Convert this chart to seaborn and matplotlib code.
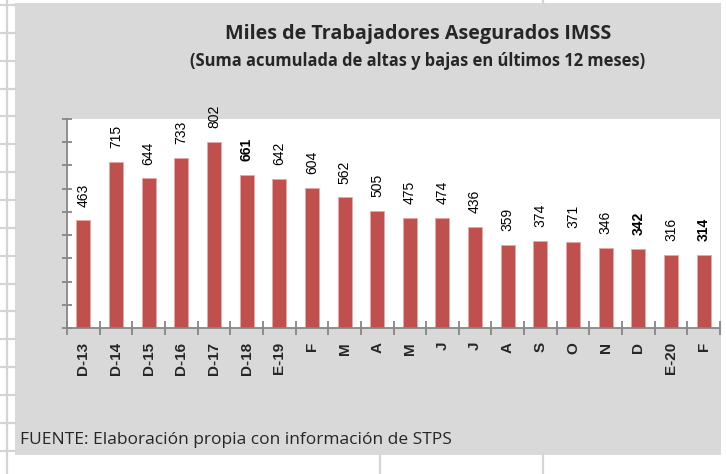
import numpy as np
import pandas as pd
import matplotlib
matplotlib.use("Agg")
import matplotlib.pyplot as plt
import seaborn as sns
from matplotlib.lines import Line2D
from matplotlib.patches import Rectangle
from matplotlib.ticker import MultipleLocator, FixedLocator, NullFormatter

# datos
etiquetas = ['D-13', 'D-14', 'D-15', 'D-16', 'D-17', 'D-18', 'E-19', 'F', 'M', 'A',
             'M', 'J', 'J', 'A', 'S', 'O', 'N', 'D', 'E-20', 'F']
valores = [463, 715, 644, 733, 802, 661, 642, 604, 562, 505,
           475, 474, 436, 359, 374, 371, 346, 342, 316, 314]
en_negrita = [5, 17, 19]  # etiquetas de valor resaltadas

titulo = 'Miles de Trabajadores Asegurados IMSS'
subtitulo = '(Suma acumulada de altas y bajas en últimos 12 meses)'
fuente = 'FUENTE: Elaboración propia con información de STPS'

W, H = 726, 474
ROJO = '#C0504D'
GRIS_EJE = '#868686'
GRIS_FONDO = '#D9D9D9'
GRIS_HOJA = '#D4D4D4'

sns.set_style("white")
fig = plt.figure(figsize=(W / 100, H / 100), dpi=100)
fig.patch.set_facecolor('white')


def fx(x):
    return x / W


def fy(y):
    return 1 - y / H


# cuadrícula de la hoja de cálculo
fig.add_artist(Line2D([fx(6.5), fx(6.5)], [0, 1], color=GRIS_HOJA, lw=1.6))
for y in np.arange(5, H, 27.85):
    fig.add_artist(Line2D([0, fx(15)], [fy(y), fy(y)], color=GRIS_HOJA, lw=1.6))
fig.add_artist(Line2D([fx(543), fx(543)], [fy(0), fy(3)], color=GRIS_HOJA, lw=1.6))
fig.add_artist(Line2D([fx(543), fx(543)], [fy(455), 0], color=GRIS_HOJA, lw=1.6))
fig.add_artist(Line2D([fx(380), fx(380)], [fy(455), 0], color=GRIS_HOJA, lw=1.6))

# área del gráfico (gris)
fig.add_artist(Rectangle((fx(15), fy(455)), fx(721) - fx(15), fy(3) - fy(455),
                         transform=fig.transFigure, facecolor=GRIS_FONDO,
                         edgecolor='none', zorder=0))

ax = fig.add_axes([fx(67), fy(328), fx(720) - fx(67), fy(119) - fy(328)])
ax.set_facecolor('white')

df = pd.DataFrame({'pos': np.arange(len(valores)), 'valor': valores})
sns.barplot(data=df, x='pos', y='valor', color=ROJO, saturation=1, width=0.43, ax=ax)
for p in ax.patches:
    p.set_edgecolor('#E6A9A8')
    p.set_linewidth(0.6)

ax.set_ylim(0, 900)
ax.set_xlim(-0.5, len(valores) - 0.5)
ax.set_xlabel('')
ax.set_ylabel('')

# etiquetas de valor
textos = ax.bar_label(ax.containers[0], labels=[str(v) for v in valores],
                      rotation=90, padding=10, fontsize=10,
                      family='Liberation Sans', color='black')
for i in en_negrita:
    textos[i].set_fontweight('bold')

# ejes
for lado in ['top', 'right']:
    ax.spines[lado].set_visible(False)
for lado in ['left', 'bottom']:
    ax.spines[lado].set_color(GRIS_EJE)
    ax.spines[lado].set_linewidth(1.3)

ax.yaxis.set_major_locator(MultipleLocator(100))
ax.yaxis.set_major_formatter(NullFormatter())
ax.tick_params(axis='y', direction='inout', length=7.5, width=1.3, color=GRIS_EJE, left=True)

ax.xaxis.set_major_locator(FixedLocator(np.arange(len(valores))))
ax.set_xticklabels(etiquetas, rotation=90, fontweight='bold', fontsize=11,
                   family='Liberation Sans')
ax.xaxis.set_minor_locator(FixedLocator(np.arange(len(valores) + 1) - 0.5))
ax.tick_params(axis='x', which='major', length=0, pad=10, bottom=True)
ax.tick_params(axis='x', which='minor', direction='inout', length=9.5, width=1.3,
               color=GRIS_EJE, bottom=True)
ax.grid(False)

# títulos y fuente
fig.text(fx(418), fy(34), titulo, ha='center', va='center', fontsize=14.2,
         fontweight='bold', family='Open Sans')
fig.text(fx(418), fy(61), subtitulo, ha='center', va='center', fontsize=11.9,
         fontweight='bold', family='Open Sans')
fig.text(fx(20), fy(440), fuente, ha='left', va='center', fontsize=12.5, family='Open Sans')

fig.savefig('out.png', dpi=100)
